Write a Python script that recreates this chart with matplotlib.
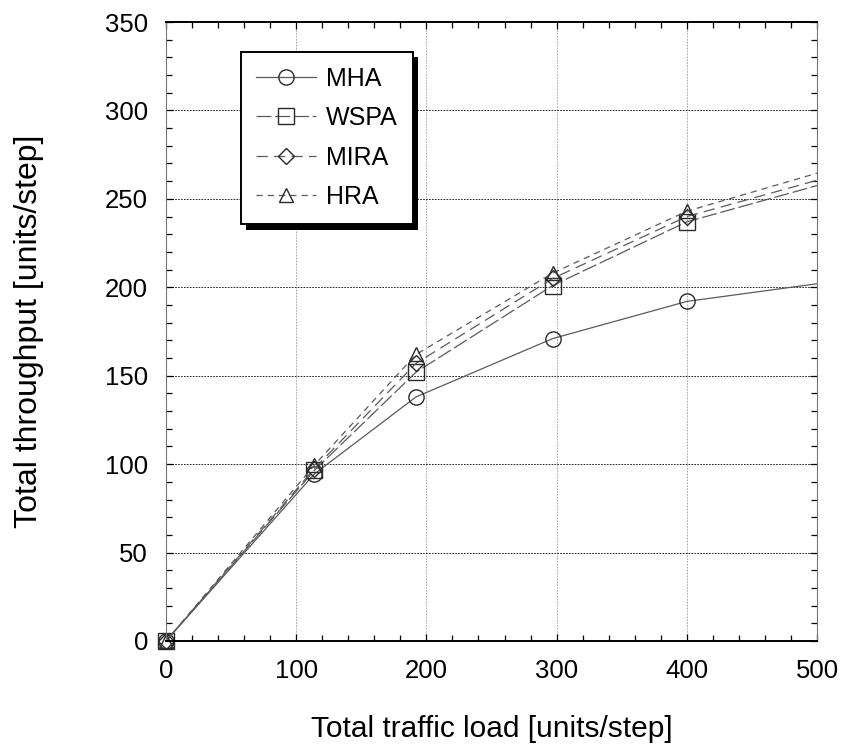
import matplotlib
matplotlib.use("Agg")
import matplotlib.pyplot as plt
import matplotlib.patheffects as pe
from matplotlib.ticker import MultipleLocator

plt.rcParams['font.family'] = ['Liberation Sans', 'DejaVu Sans']

# Offered traffic load [units/step]
load = [0, 114, 192, 297, 400, 500]

# Total throughput [units/step] per routing algorithm
mha = [0, 94.5, 138, 171, 192, 202]
wspa = [0, 96.5, 152, 201, 237, 257.5]
mira = [0, 97.5, 157, 205, 240, 260.5]
hra = [0, 99.5, 162, 208, 243, 264.5]

labels = ['MHA', 'WSPA', 'MIRA', 'HRA']

fig = plt.figure(figsize=(8.42, 7.47), dpi=100)
ax = fig.add_axes([166 / 842, 106 / 747, 651 / 842, 619 / 747])

line_col = '#5a5a5a'
edge_col = '#2a2a2a'
common = dict(color=line_col, lw=0.9, mfc='none', mec=edge_col, mew=1.0,
              markevery=slice(0, 5), clip_on=False)

ax.plot(load, mha, linestyle='-', marker='o', ms=11, label=labels[0], **common)
ax.plot(load, wspa, linestyle=(0, (12, 3)), marker='s', ms=11, label=labels[1], **common)
ax.plot(load, mira, linestyle=(0, (9, 5)), marker='D', ms=8, label=labels[2], **common)
ax.plot(load, hra, linestyle=(0, (5, 4)), marker='^', ms=10, label=labels[3], **common)

ax.set_xlim(0, 500)
ax.set_ylim(0, 350)
ax.xaxis.set_major_locator(MultipleLocator(100))
ax.xaxis.set_minor_locator(MultipleLocator(20))
ax.yaxis.set_major_locator(MultipleLocator(50))
ax.yaxis.set_minor_locator(MultipleLocator(10))

ax.tick_params(which='both', direction='in', top=True, right=True,
               labelsize=18.5, color='black', width=0.9)
ax.tick_params(which='major', length=5, pad=13)
ax.tick_params(which='minor', length=4)

# dotted grid: horizontal dark, vertical light
ax.grid(axis='y', which='major', color='black', linestyle=(0, (2, 1.5)), lw=0.6)
ax.grid(axis='x', which='major', color='#9a9a9a', linestyle=(0, (2, 1.5)), lw=0.6)
ax.set_axisbelow(True)

for side in ('top', 'bottom'):
    ax.spines[side].set_linewidth(1.4)
    ax.spines[side].set_color('black')
for side in ('left', 'right'):
    ax.spines[side].set_linewidth(0.8)
    ax.spines[side].set_color('#777777')

ax.set_xlabel('Total traffic load [units/step]', fontsize=21.5, labelpad=23)
ax.set_ylabel('Total throughput [units/step]', fontsize=23, labelpad=44)

leg = ax.legend(loc='upper left', bbox_to_anchor=(0.115, 0.952), fontsize=18,
                frameon=True, fancybox=False, edgecolor='black',
                handlelength=2.4, handletextpad=0.4, labelspacing=0.62,
                borderpad=0.6, borderaxespad=0)
frame = leg.get_frame()
frame.set_linewidth(1.4)
frame.set_facecolor('white')
frame.set_alpha(1)
frame.set_path_effects([
    pe.SimplePatchShadow(offset=(4, -4), shadow_rgbFace='black', alpha=1.0),
    pe.Normal(),
])

fig.savefig('out.png', dpi=100, facecolor='white')
